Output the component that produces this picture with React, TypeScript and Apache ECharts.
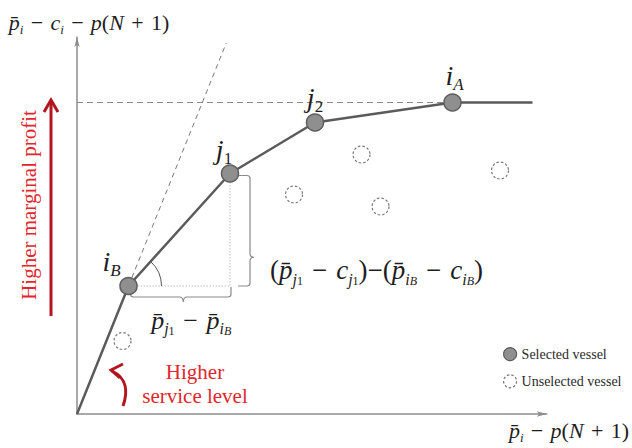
import React, { useEffect, useRef } from 'react';
import * as echarts from 'echarts';

// ---- data (abstract units) ----
const selectedNames = ['i_B', 'j_1', 'j_2', 'i_A'];
const selectedX = [10.3, 30.6, 47.6, 75.1];
const selectedY = [25.6, 48.1, 58.3, 62.3];
const unselectedX = [9.1, 43.4, 56.9, 60.7, 84.6];
const unselectedY = [14.6, 43.9, 51.9, 41.5, 48.7];
const frontierEndX = 91.1;
const tangentTopY = 74.2;
const xMax = 93.94;
const yMax = 75.4;
const legendNames = ['Selected vessel', 'Unselected vessel'];
const sideText = 'Higher marginal profit';
const serviceText = 'Higher\nservice level';

// ---- layout / style ----
const labelOffsets = [[-17, -25], [-6, -24], [0, -25], [2, -27]];
const FONT = "'Liberation Serif', 'Times New Roman', serif";
const INK = '#1e1e1e';
const RED_TEXT = '#e2262d';
const RED_ARROW = '#b3151e';

function mathRich(size: number) {
  const sub = Math.round(size * 0.6);
  const ss = Math.round(size * 0.45);
  const lh = Math.round(size * 1.25);
  const base = { fontFamily: FONT, color: INK, fill: INK };
  return {
    it: { ...base, fontStyle: 'italic', fontSize: size, lineHeight: lh },
    rm: { ...base, fontStyle: 'normal', fontSize: size, lineHeight: lh },
    sub: { ...base, fontStyle: 'italic', fontSize: sub, lineHeight: sub, verticalAlign: 'bottom' },
    subrm: { ...base, fontStyle: 'normal', fontSize: sub, lineHeight: sub, verticalAlign: 'bottom' },
    ss: { ...base, fontStyle: 'italic', fontSize: ss, lineHeight: ss, verticalAlign: 'bottom' },
    ssrm: { ...base, fontStyle: 'normal', fontSize: ss, lineHeight: ss, verticalAlign: 'bottom' },
  };
}

const PBAR = 'p\u0304';
const SP = '\u2004';
const MINUS = `${SP}\u2212${SP}`;
const PLUS = `${SP}+${SP}`;
const yName = `{it|${PBAR}}{sub|i}{rm|${MINUS}}{it|c}{sub|i}{rm|${MINUS}}{it|p}{rm|(}{it|N}{rm|${PLUS}1)}`;
const xName = `{it|${PBAR}}{sub|i}{rm|${MINUS}}{it|p}{rm|(}{it|N}{rm|${PLUS}1)}`;
const formulaRise = `{rm|(}{it|${PBAR}}{sub|j}{ssrm|1}{rm|${MINUS}}{it|c}{sub|j}{ssrm|1}{rm|)\u2212(}{it|${PBAR}}{sub|i}{ss|B}{rm|${MINUS}}{it|c}{sub|i}{ss|B}{rm|)}`;
const formulaRun = `{it|${PBAR}}{sub|j}{ssrm|1}{rm|${MINUS}}{it|${PBAR}}{sub|i}{ss|B}`;

function pointLabel(name: string) {
  const [main, s] = name.split('_');
  const subStyle = /\d/.test(s) ? 'subrm' : 'sub';
  return `{it|${main}}{${subStyle}|${s}}`;
}

export default function App() {
  const ref = useRef<HTMLDivElement>(null);
  useEffect(() => {
    if (!ref.current) return;
    const chart = echarts.init(ref.current, undefined, { renderer: 'svg' });

    const selected = selectedX.map((x, i) => [x, selectedY[i]]);
    const unselected = unselectedX.map((x, i) => [x, unselectedY[i]]);
    const iB = selected[0];
    const j1 = selected[1];
    const iA = selected[3];
    const frontier = [[0, 0], ...selected, [frontierEndX, iA[1]]];
    const tangentTop = [tangentTopY * iB[0] / iB[1], tangentTopY];

    const option: any = {
      animation: false,
      backgroundColor: '#ffffff',
      textStyle: { fontFamily: FONT },
      grid: { left: 77, right: 85.3, top: 37, bottom: 34, containLabel: false, outerBoundsMode: 'none' },
      legend: {
        orient: 'vertical',
        left: 503,
        top: 347,
        padding: 0,
        itemWidth: 13,
        itemHeight: 13,
        itemGap: 13,
        textStyle: { fontFamily: FONT, fontSize: 14, color: '#2a2a2a' },
        data: [
          { name: legendNames[0], icon: 'circle', itemStyle: { color: '#8f8f8f', borderColor: '#5e5e5e', borderWidth: 1.2 } },
          { name: legendNames[1], icon: 'circle', itemStyle: { color: '#ffffff', borderColor: '#555', borderWidth: 1.2, borderType: [2.5, 2] } },
        ],
      },
      xAxis: {
        type: 'value', min: 0, max: xMax,
        axisLine: { show: true, onZero: false, symbol: ['none', 'arrow'], symbolSize: [4, 10], lineStyle: { color: '#8c8c8c', width: 1.5 } },
        axisTick: { show: false }, axisLabel: { show: false }, splitLine: { show: false },
        name: xName, nameLocation: 'end', nameGap: 82.3, nameMoveOverlap: false,
        nameTextStyle: { align: 'right', verticalAlign: 'top', padding: [2, 0, 0, 0], rich: mathRich(22) },
      },
      yAxis: {
        type: 'value', min: 0, max: yMax,
        axisLine: { show: true, onZero: false, symbol: ['none', 'arrow'], symbolSize: [4, 10], lineStyle: { color: '#8c8c8c', width: 1.5 } },
        axisTick: { show: false }, axisLabel: { show: false }, splitLine: { show: false },
        name: yName, nameLocation: 'end', nameGap: 15, nameMoveOverlap: false,
        nameTextStyle: { align: 'center', verticalAlign: 'middle', padding: [0, 0, 0, 24], rich: mathRich(22) },
      },
      series: [
        {
          type: 'line', name: 'ref-level', silent: true, symbol: 'none', z: 1,
          data: [[0, iA[1]], iA],
          lineStyle: { color: '#8a8a8a', width: 1.2, type: [6, 4] },
        },
        {
          type: 'line', name: 'tangent', silent: true, symbol: 'none', z: 1,
          data: [iB, tangentTop],
          lineStyle: { color: '#555', width: 0.8, type: [5, 4] },
        },
        {
          type: 'line', name: 'triangle', silent: true, symbol: 'none', z: 1,
          data: [iB, [j1[0], iB[1]], j1],
          lineStyle: { color: '#c2c2c2', width: 1, type: [1.5, 1.5] },
        },
        {
          type: 'custom', name: 'annotations', silent: true, z: 2,
          coordinateSystem: 'cartesian2d',
          data: [[iB[0], iB[1], j1[0], j1[1]]],
          encode: { x: [0, 2], y: [1, 3] },
          renderItem: (params: any, api: any) => {
            const P = api.coord([api.value(0), api.value(1)]);
            const Q = api.coord([api.value(2), api.value(3)]);
            const stroke = '#8a8a8a';
            // vertical brace
            const x0 = Q[0] + 8, x1 = Q[0] + 20, vTipX = Q[0] + 24;
            const top = Q[1] + 2, bot = P[1];
            const vTipY = top + 0.74 * (bot - top);
            const vPath = `M${x0} ${top} L${x1 - 3} ${top} Q${x1} ${top} ${x1} ${top + 3} L${x1} ${vTipY - 4} Q${x1} ${vTipY} ${vTipX} ${vTipY} Q${x1} ${vTipY} ${x1} ${vTipY + 4} L${x1} ${bot - 3} Q${x1} ${bot} ${x1 - 3} ${bot} L${x0} ${bot}`;
            // horizontal brace
            const left = P[0] + 2, right = Q[0] + 1;
            const topY = P[1] + 4, y1 = P[1] + 11, hTipY = P[1] + 16;
            const hTipX = left + 0.525 * (right - left);
            const hPath = `M${left} ${topY} L${left} ${y1 - 3} Q${left} ${y1} ${left + 3} ${y1} L${hTipX - 4} ${y1} Q${hTipX} ${y1} ${hTipX} ${hTipY} Q${hTipX} ${y1} ${hTipX + 4} ${y1} L${right - 3} ${y1} Q${right} ${y1} ${right} ${y1 - 3} L${right} ${topY - 3}`;
            const theta = Math.atan2(P[1] - Q[1], Q[0] - P[0]);
            return {
              type: 'group',
              children: [
                { type: 'path', shape: { pathData: vPath }, style: { stroke, fill: 'none', lineWidth: 1.2 } },
                { type: 'path', shape: { pathData: hPath }, style: { stroke, fill: 'none', lineWidth: 1.2 } },
                { type: 'arc', shape: { cx: P[0], cy: P[1], r: 33, startAngle: -theta, endAngle: 0, clockwise: true }, style: { stroke: '#555', fill: 'none', lineWidth: 1 } },
                { type: 'text', x: vTipX + 16, y: vTipY + 13, style: { text: formulaRise, rich: mathRich(27), fill: INK, align: 'left', verticalAlign: 'middle' } },
                { type: 'text', x: hTipX + 8, y: hTipY + 18, style: { text: formulaRun, rich: mathRich(26), fill: INK, align: 'center', verticalAlign: 'middle' } },
              ],
            };
          },
        },
        {
          type: 'line', name: 'frontier', silent: true, symbol: 'none', z: 3,
          data: frontier,
          lineStyle: { color: '#5b5b5b', width: 2.5 },
        },
        {
          type: 'scatter', name: legendNames[0], z: 5, symbol: 'circle', symbolSize: 17,
          itemStyle: { color: '#8f8f8f', borderColor: '#5e5e5e', borderWidth: 1.5, opacity: 1 },
          data: selected.map((v, i) => ({ value: v, label: { offset: labelOffsets[i] } })),
          label: {
            show: true, position: 'inside',
            formatter: (p: any) => pointLabel(selectedNames[p.dataIndex]),
            rich: mathRich(28),
          },
        },
        {
          type: 'scatter', name: legendNames[1], z: 5, symbol: 'circle', symbolSize: 17,
          itemStyle: { color: '#ffffff', borderColor: '#555', borderWidth: 1.2, borderType: [2.5, 2] },
          data: unselected,
        },
      ],
      graphic: [
        { type: 'text', x: 29, y: 205, rotation: Math.PI / 2, style: { text: sideText, fill: RED_TEXT, font: `21px ${FONT}`, align: 'center', verticalAlign: 'middle' } },
        { type: 'line', shape: { x1: 51, y1: 316, x2: 51, y2: 102 }, style: { stroke: RED_ARROW, lineWidth: 3 } },
        { type: 'polyline', shape: { points: [[44, 112], [51, 100], [58, 112]] }, style: { stroke: RED_ARROW, lineWidth: 3, fill: null } },
        { type: 'text', x: 195, y: 384, style: { text: serviceText, fill: RED_TEXT, font: `21px ${FONT}`, align: 'center', verticalAlign: 'middle', lineHeight: 24 } },
        { type: 'bezierCurve', shape: { x1: 123, y1: 406, cpx1: 128, cpy1: 392, cpx2: 127, cpy2: 378, x2: 112, y2: 371 }, style: { stroke: RED_ARROW, lineWidth: 3, fill: null } },
        { type: 'polyline', shape: { points: [[123, 364], [111, 370], [120, 378]] }, style: { stroke: RED_ARROW, lineWidth: 3, fill: null } },
      ],
    };
    chart.setOption(option);
    return () => chart.dispose();
  }, []);
  return (
    <div
      ref={ref}
      style={{ position: 'fixed', left: 0, top: 0, width: 632, height: 448, background: '#fff' }}
    />
  );
}
